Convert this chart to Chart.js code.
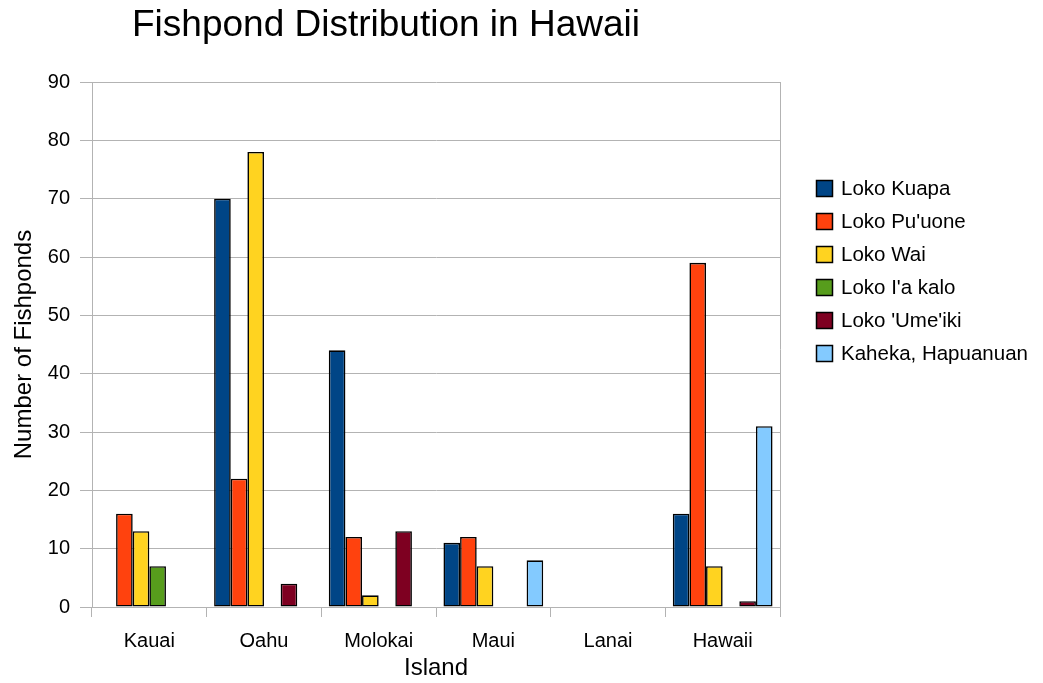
<!DOCTYPE html>
<html>
<head>
<meta charset="utf-8">
<title>Fishpond Distribution in Hawaii</title>
<script src="https://cdn.jsdelivr.net/npm/chart.js@4.4.1/dist/chart.umd.min.js"></script>
<style>
  html, body { margin: 0; padding: 0; background: #fff; }
  #wrap { width: 1043px; height: 683px; }
</style>
</head>
<body>
<div id="wrap"><canvas id="chart-fishponds"></canvas></div>
<script>
  // chart data
  const islands = ['Kauai', 'Oahu', 'Molokai', 'Maui', 'Lanai', 'Hawaii'];
  const seriesNames = ['Loko Kuapa', "Loko Pu'uone", 'Loko Wai', "Loko I'a kalo", "Loko 'Ume'iki", 'Kaheka, Hapuanuan'];
  const lokoKuapa = [0, 70, 44, 11, 0, 16];
  const lokoPuuone = [16, 22, 12, 12, 0, 59];
  const lokoWai = [13, 78, 2, 7, 0, 7];
  const lokoIaKalo = [7, 0, 0, 0, 0, 0];
  const lokoUmeiki = [0, 4, 13, 0, 0, 1];
  const kaheka = [0, 0, 0, 8, 0, 31];
  const seriesColors = ['#004586', '#ff420e', '#ffd320', '#579d1c', '#7e0021', '#83caff'];
  const yTicks = [0, 10, 20, 30, 40, 50, 60, 70, 80, 90];

  const gridColor = '#b3b3b3';
  const fontFamily = '"Liberation Sans", Arial, sans-serif';
  const allSeries = [lokoKuapa, lokoPuuone, lokoWai, lokoIaKalo, lokoUmeiki, kaheka];

  // zero bars are not drawn in the original
  const datasets = allSeries.map(function (values, i) {
    return {
      label: seriesNames[i],
      data: values.map(function (v) { return v === 0 ? null : v; }),
      backgroundColor: seriesColors[i],
      borderColor: '#000',
      borderWidth: 1.6,
      borderSkipped: false
    };
  });

  const frameAndLegend = {
    id: 'frameAndLegend',
    afterDraw: function (chart) {
      const ctx = chart.ctx;
      const area = chart.chartArea;
      ctx.save();
      // right edge of the plot frame
      ctx.strokeStyle = gridColor;
      ctx.lineWidth = 1;
      ctx.beginPath();
      ctx.moveTo(area.right + 0.5, area.top);
      ctx.lineTo(area.right + 0.5, area.bottom + 10);
      ctx.stroke();

      // title
      ctx.fillStyle = '#000';
      ctx.font = '37px ' + fontFamily;
      ctx.textAlign = 'center';
      ctx.textBaseline = 'alphabetic';
      ctx.fillText('Fishpond Distribution in Hawaii', 386, 36);

      // legend
      ctx.font = '20.5px ' + fontFamily;
      ctx.textAlign = 'left';
      ctx.textBaseline = 'middle';
      chart.data.datasets.forEach(function (ds, i) {
        const cy = 188 + i * 33;
        ctx.fillStyle = ds.backgroundColor;
        ctx.fillRect(816, cy - 8, 17, 17);
        ctx.strokeStyle = '#000';
        ctx.lineWidth = 1.5;
        ctx.strokeRect(816.5, cy - 7.5, 16, 16);
        ctx.fillStyle = '#000';
        ctx.fillText(ds.label, 841, cy + 1);
      });
      ctx.restore();
    }
  };

  new Chart(document.getElementById('chart-fishponds'), {
    type: 'bar',
    data: { labels: islands, datasets: datasets },
    plugins: [frameAndLegend],
    options: {
      responsive: true,
      maintainAspectRatio: false,
      animation: false,
      layout: { padding: { top: 82, right: 263, left: 0, bottom: 0 } },
      datasets: { bar: { categoryPercentage: 0.87, barPercentage: 1.0 } },
      plugins: {
        legend: { display: false },
        title: { display: false },
        tooltip: { enabled: false }
      },
      scales: {
        x: {
          grid: { color: gridColor, drawOnChartArea: false, drawTicks: true, tickLength: 10, offset: true },
          border: { color: gridColor },
          ticks: { color: '#000', font: { size: 20, family: fontFamily }, padding: 12 },
          title: { display: true, text: 'Island', color: '#000', font: { size: 24, family: fontFamily }, padding: 0 },
          afterFit: function (scale) { scale.height = 76; }
        },
        y: {
          min: 0,
          max: 90,
          afterBuildTicks: function (scale) {
            scale.ticks = yTicks.map(function (v) { return { value: v }; });
          },
          grid: { color: gridColor, tickLength: 12 },
          border: { color: gridColor },
          ticks: { color: '#000', font: { size: 20, family: fontFamily }, padding: 10 },
          title: { display: true, text: 'Number of Fishponds', color: '#000', font: { size: 24, family: fontFamily }, padding: { top: 10, bottom: 0 } },
          afterFit: function (scale) { scale.width = 92; }
        }
      }
    }
  });
</script>
</body>
</html>
